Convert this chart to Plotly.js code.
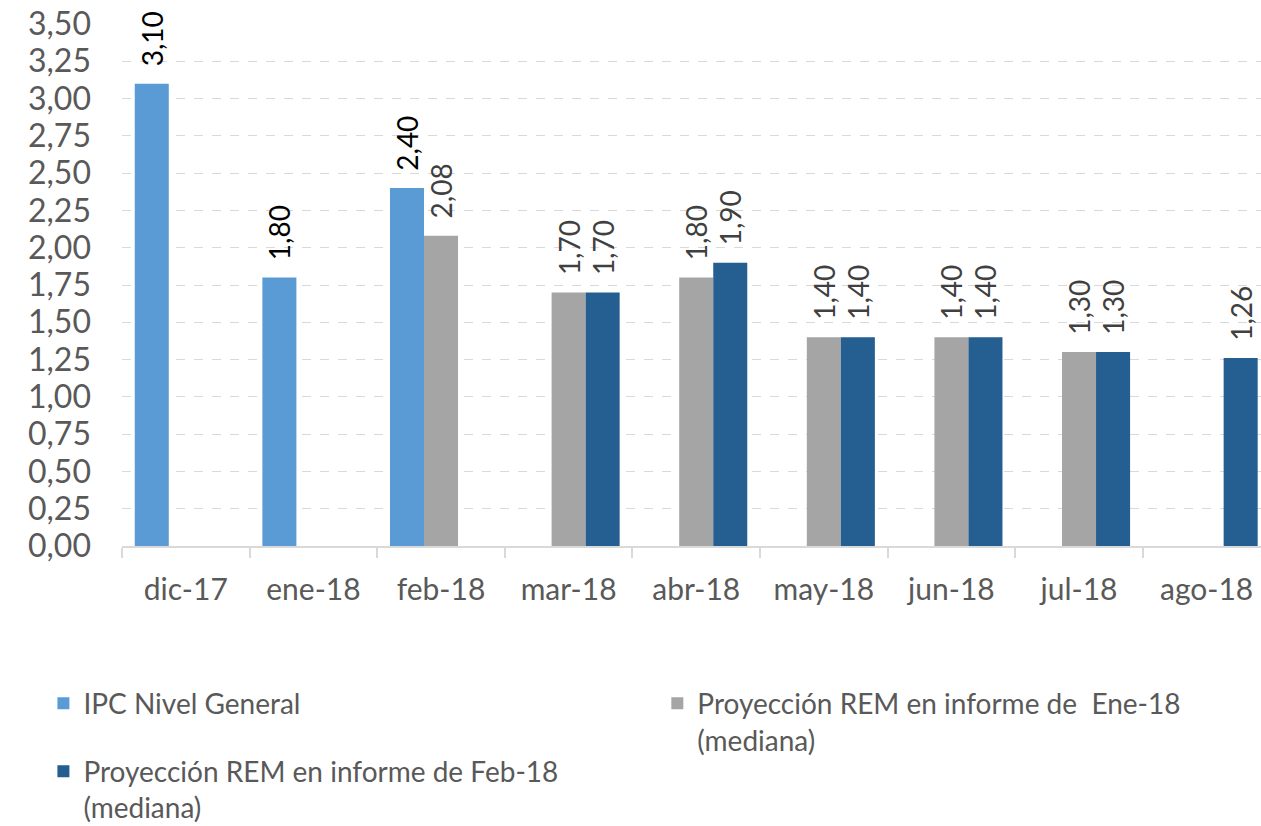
<!DOCTYPE html>
<html>
<head>
<meta charset="utf-8">
<script src="https://cdn.plot.ly/plotly-3.0.1.min.js"></script>
<style>html,body{margin:0;padding:0;background:#fff;}</style>
</head>
<body>
<div id="chart" style="width:1261px;height:826px;"></div>
<script>
const categories = ["dic-17","ene-18","feb-18","mar-18","abr-18","may-18","jun-18","jul-18","ago-18"];
const ipcNivelGeneral = [3.10, 1.80, 2.40, null, null, null, null, null, null];
const remEne18 = [null, null, 2.08, 1.70, 1.80, 1.40, 1.40, 1.30, null];
const remFeb18 = [null, null, null, 1.70, 1.90, 1.40, 1.40, 1.30, 1.26];
const seriesNames = [
  "IPC Nivel General",
  "Proyección REM en informe de  Ene-18<br>(mediana)",
  "Proyección REM en informe de Feb-18<br>(mediana)"
];

const FONT = "Lato, 'Open Sans', sans-serif";
const PAD = "\u00a0\u00a0";

function barTrace(vals, name, color, txtColor, legendId) {
  return {
    type: "bar", x: categories, y: vals, name: name,
    marker: {color: color},
    texttemplate: PAD + "%{y:.2f}",
    textposition: "outside", textangle: -90,
    textfont: {family: FONT, size: 28, color: txtColor},
    constraintext: "none", cliponaxis: false,
    hoverinfo: "x+y", legend: legendId
  };
}

const data = [
  barTrace(ipcNivelGeneral, seriesNames[0], "#5B9BD5", "#000000", "legend"),
  barTrace(remEne18, seriesNames[1], "#A5A5A5", "#404040", "legend2"),
  barTrace(remFeb18, seriesNames[2], "#255E91", "#404040", "legend3")
];

const legendFont = {family: FONT, size: 28, color: "#595959"};
const layout = {
  width: 1261, height: 826,
  margin: {l: 122, r: 0, t: 24, b: 280, autoexpand: false},
  paper_bgcolor: "#ffffff", plot_bgcolor: "#ffffff",
  separators: ",.",
  barmode: "group", bargap: 0.2, bargroupgap: 0,
  font: {family: FONT, color: "#595959"},
  xaxis: {
    type: "category", range: [-0.5, 8.426],
    showline: true, linecolor: "#d9d9d9", linewidth: 2,
    ticks: "outside", tickson: "boundaries", ticklen: 10, tickcolor: "#d9d9d9", tickwidth: 2,
    showgrid: false, automargin: false,
    tickfont: {family: FONT, size: 30, color: "#595959"},
    ticklabelstandoff: 16
  },
  yaxis: {
    range: [0, 3.5], dtick: 0.25, tick0: 0, tickformat: ".2f",
    showgrid: true, gridcolor: "#d9d9d9", griddash: "dash", gridwidth: 1,
    zeroline: false, showline: false, ticks: "", automargin: false,
    tickfont: {family: FONT, size: 32, color: "#595959"},
    ticklabelstandoff: 30
  },
  showlegend: true,
  legend: {x: -0.069, y: -0.254, xanchor: "left", yanchor: "top", orientation: "v", valign: "top", font: legendFont, bgcolor: "rgba(0,0,0,0)"},
  legend2: {x: 0.47, y: -0.254, xanchor: "left", yanchor: "top", orientation: "v", valign: "top", font: legendFont, bgcolor: "rgba(0,0,0,0)"},
  legend3: {x: -0.069, y: -0.384, xanchor: "left", yanchor: "top", orientation: "v", valign: "top", font: legendFont, bgcolor: "rgba(0,0,0,0)"}
};

Plotly.newPlot("chart", data, layout, {displayModeBar: false, staticPlot: true});
</script>
</body>
</html>
